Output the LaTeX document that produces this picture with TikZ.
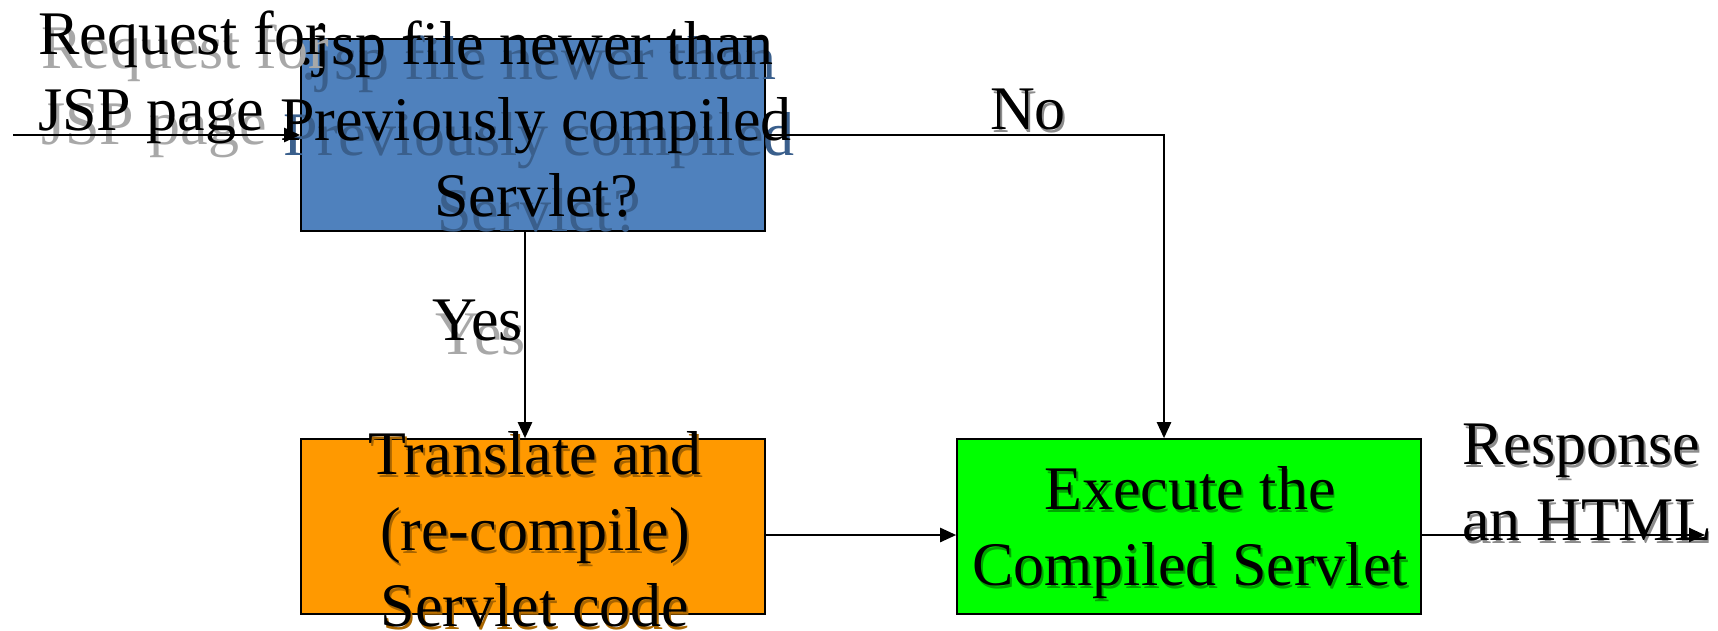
\documentclass[tikz,border=0pt]{standalone}
\usepackage{fontspec}
\setmainfont{Liberation Serif}
\usetikzlibrary{arrows.meta}
\definecolor{boxblue}{HTML}{4F81BD}
\definecolor{boxorange}{HTML}{FF9900}
\definecolor{boxgreen}{HTML}{00FF00}
\definecolor{shwhite}{HTML}{A8A8A8}
\definecolor{shblue}{HTML}{3A5F8C}
\definecolor{shgreen}{HTML}{00A400}
\definecolor{shorange}{HTML}{A86500}
\definecolor{shsmall}{HTML}{8C8C8C}
\newcommand\shtxt[4]{\leavevmode\rlap{\kern#2\raisebox{#3}[0pt][0pt]{\textcolor{#1}{#4}}}#4}
\tikzset{
  box/.style={draw=black, line width=1.6pt, minimum width=464pt, inner sep=0pt},
  lbl/.style={font=\fontsize{62}{76}\selectfont, inner sep=0pt, text=black},
  conn/.style={line width=2.4pt, -{Triangle[length=16pt,width=14pt]}},
}
\begin{document}
\begin{tikzpicture}[x=1pt,y=-1pt]
\useasboundingbox (0,0) rectangle (1718,631);
% boxes
\node[box, fill=boxblue, minimum height=192pt] (blue) at (533,135) {};
\node[box, fill=boxorange, minimum height=175pt] (orange) at (533,526.5) {};
\node[box, fill=boxgreen, minimum height=175pt] (green) at (1189,526.5) {};
% box texts (base anchor = last line)
\node[lbl, align=center, anchor=base] (bluetxt) at (536,217)
  {\shtxt{shblue}{3pt}{-14pt}{.jsp file newer than}\\
   \shtxt{shblue}{3pt}{-14pt}{Previously compiled}\\
   \shtxt{shblue}{3pt}{-14pt}{Servlet?}};
\node[lbl, align=center, anchor=base] (orangetxt) at (535,626)
  {\shtxt{shorange}{2pt}{-3pt}{Translate and}\\
   \shtxt{shorange}{2pt}{-3pt}{(re-compile)}\\
   \shtxt{shorange}{2pt}{-3pt}{Servlet code}};
\node[lbl, align=center, anchor=base] (greentxt) at (1190,585)
  {\shtxt{shgreen}{2pt}{-3pt}{Execute the}\\
   \shtxt{shgreen}{2pt}{-3pt}{Compiled Servlet}};
% labels
\node[lbl, align=left, anchor=base west] (req) at (38,131)
  {\shtxt{shwhite}{3pt}{-14pt}{Request for}\\
   \shtxt{shwhite}{3pt}{-14pt}{JSP page}};
\node[lbl, anchor=base] (yes) at (478,340) {\shtxt{shwhite}{3pt}{-14pt}{Yes}};
\node[lbl, anchor=base] (no) at (1028,130) {\shtxt{shsmall}{2pt}{-3pt}{No}};
\node[lbl, align=left, anchor=base west] (resp) at (1462,540)
  {\shtxt{shsmall}{2pt}{-3pt}{Response}\\
   \shtxt{shsmall}{2pt}{-3pt}{an HTML}};
% connectors
\coordinate (in) at (13,135);
\coordinate (out) at (1705,535);
\draw[conn] (in) -- (blue.west);
\draw[conn] (blue.east) -| ([xshift=-25pt]green.north);
\draw[conn] ([xshift=-8pt]blue.south) -- ([xshift=-8pt]orange.north);
\draw[conn] ([yshift=-8.5pt]orange.east) -- ([yshift=-8.5pt]green.west);
\draw[conn] ([yshift=-8.5pt]green.east) -- (out);
\end{tikzpicture}
\end{document}
